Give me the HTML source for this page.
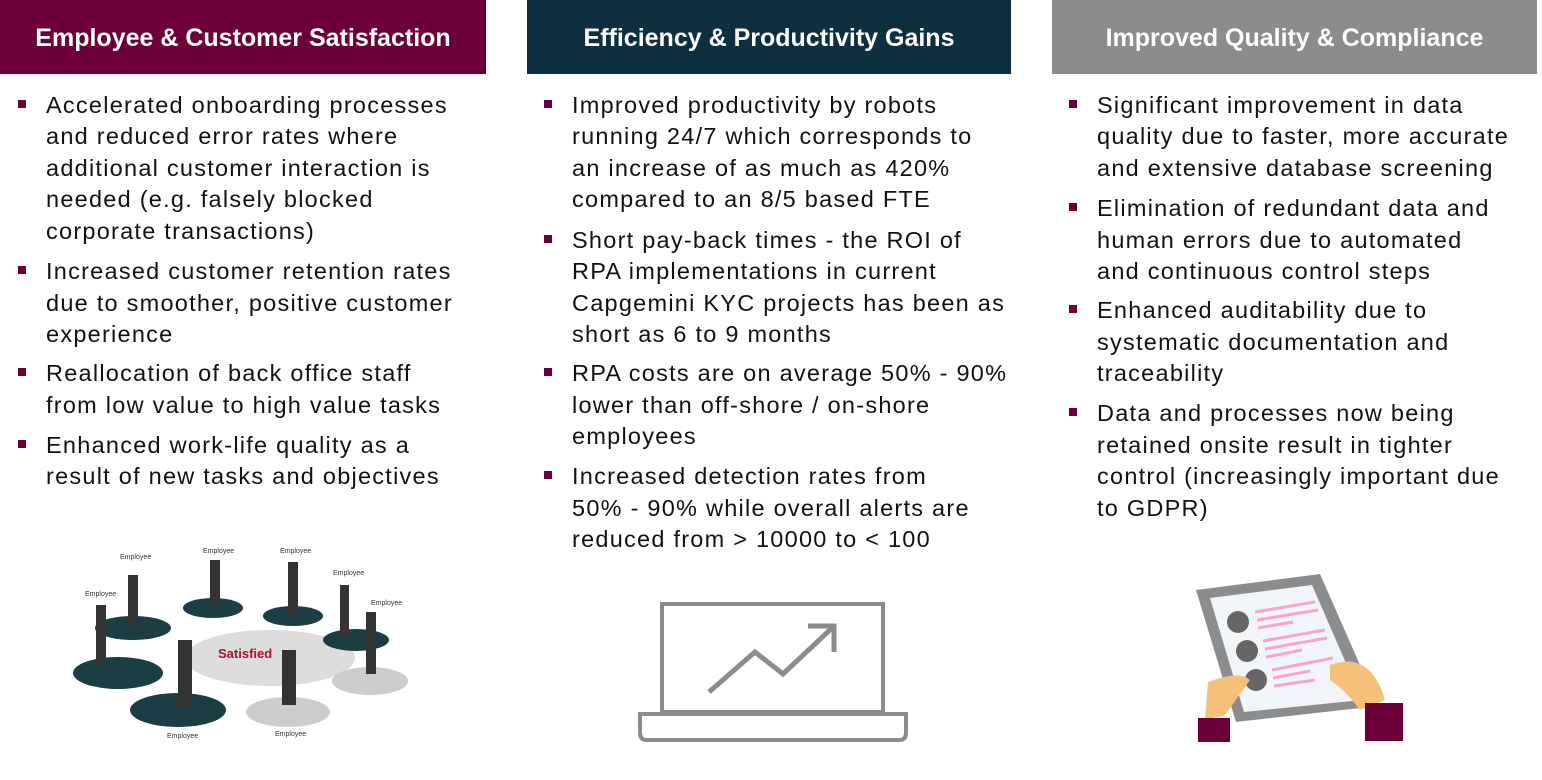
<!DOCTYPE html>
<html><head><meta charset="utf-8"><style>
body{margin:0;width:1542px;height:780px;background:#fff;position:relative;overflow:hidden;font-family:"Liberation Sans",sans-serif;}
.h{position:absolute;top:0;height:74px;color:#fff;font-weight:bold;font-size:25px;line-height:76px;text-align:center;white-space:nowrap}
.l{position:absolute;height:32px;line-height:32px;font-size:23.5px;letter-spacing:1.25px;color:#111;white-space:nowrap}
.b{position:absolute;width:8px;height:8px;background:#6d0038}
</style></head><body>
<div class="h" style="left:0;width:496px;background:#6d0038;width:486px">Employee &amp; Customer Satisfaction</div>
<div class="h" style="left:527px;width:484px;background:#0d2f3f">Efficiency &amp; Productivity Gains</div>
<div class="h" style="left:1052px;width:485px;background:#8a8c8e">Improved Quality &amp; Compliance</div>

<div class="b" style="left:18px;top:100px"></div>
<div class="l" style="left:46px;top:89px">Accelerated onboarding processes</div>
<div class="l" style="left:46px;top:120px">and reduced error rates where</div>
<div class="l" style="left:46px;top:152px">additional customer interaction is</div>
<div class="l" style="left:46px;top:183px">needed (e.g. falsely blocked</div>
<div class="l" style="left:46px;top:215px">corporate transactions)</div>
<div class="b" style="left:18px;top:266px"></div>
<div class="l" style="left:46px;top:255px">Increased customer retention rates</div>
<div class="l" style="left:46px;top:287px">due to smoother, positive customer</div>
<div class="l" style="left:46px;top:318px">experience</div>
<div class="b" style="left:18px;top:368px"></div>
<div class="l" style="left:46px;top:357px">Reallocation of back office staff</div>
<div class="l" style="left:46px;top:389px">from low value to high value tasks</div>
<div class="b" style="left:18px;top:440px"></div>
<div class="l" style="left:46px;top:429px">Enhanced work-life quality as a</div>
<div class="l" style="left:46px;top:460px">result of new tasks and objectives</div>

<div class="b" style="left:544px;top:100px"></div>
<div class="l" style="left:572px;top:89px">Improved productivity by robots</div>
<div class="l" style="left:572px;top:120px">running 24/7 which corresponds to</div>
<div class="l" style="left:572px;top:152px">an increase of as much as 420%</div>
<div class="l" style="left:572px;top:183px">compared to an 8/5 based FTE</div>
<div class="b" style="left:544px;top:235px"></div>
<div class="l" style="left:572px;top:224px">Short pay-back times - the ROI of</div>
<div class="l" style="left:572px;top:255px">RPA implementations in current</div>
<div class="l" style="left:572px;top:287px">Capgemini KYC projects has been as</div>
<div class="l" style="left:572px;top:318px">short as 6 to 9 months</div>
<div class="b" style="left:544px;top:368px"></div>
<div class="l" style="left:572px;top:357px">RPA costs are on average 50% - 90%</div>
<div class="l" style="left:572px;top:389px">lower than off-shore / on-shore</div>
<div class="l" style="left:572px;top:420px">employees</div>
<div class="b" style="left:544px;top:471px"></div>
<div class="l" style="left:572px;top:460px">Increased detection rates from</div>
<div class="l" style="left:572px;top:492px">50% - 90% while overall alerts are</div>
<div class="l" style="left:572px;top:523px">reduced from &gt; 10000 to &lt; 100</div>

<div class="b" style="left:1069px;top:100px"></div>
<div class="l" style="left:1097px;top:89px">Significant improvement in data</div>
<div class="l" style="left:1097px;top:120px">quality due to faster, more accurate</div>
<div class="l" style="left:1097px;top:152px">and extensive database screening</div>
<div class="b" style="left:1069px;top:203px"></div>
<div class="l" style="left:1097px;top:192px">Elimination of redundant data and</div>
<div class="l" style="left:1097px;top:224px">human errors due to automated</div>
<div class="l" style="left:1097px;top:255px">and continuous control steps</div>
<div class="b" style="left:1069px;top:305px"></div>
<div class="l" style="left:1097px;top:294px">Enhanced auditability due to</div>
<div class="l" style="left:1097px;top:326px">systematic documentation and</div>
<div class="l" style="left:1097px;top:357px">traceability</div>
<div class="b" style="left:1069px;top:408px"></div>
<div class="l" style="left:1097px;top:397px">Data and processes now being</div>
<div class="l" style="left:1097px;top:429px">retained onsite result in tighter</div>
<div class="l" style="left:1097px;top:460px">control (increasingly important due</div>
<div class="l" style="left:1097px;top:492px">to GDPR)</div>

<svg style="position:absolute;left:0;top:0" width="1542" height="780">
 <g>
  <ellipse cx="270" cy="658" rx="85" ry="28" fill="#ddd"/>
  <ellipse cx="118" cy="673" rx="45" ry="16" fill="#1d3d45"/>
  <ellipse cx="133" cy="628" rx="38" ry="12" fill="#1d3d45"/>
  <ellipse cx="213" cy="608" rx="30" ry="10" fill="#1d3d45"/>
  <ellipse cx="293" cy="616" rx="30" ry="10" fill="#1d3d45"/>
  <ellipse cx="356" cy="640" rx="33" ry="11" fill="#1d3d45"/>
  <ellipse cx="370" cy="681" rx="38" ry="14" fill="#ccc"/>
  <ellipse cx="178" cy="710" rx="48" ry="17" fill="#1d3d45"/>
  <ellipse cx="288" cy="712" rx="42" ry="15" fill="#ccc"/>
  <g fill="#333">
   <rect x="128" y="575" width="10" height="50"/><rect x="96" y="605" width="10" height="60"/>
   <rect x="210" y="560" width="10" height="46"/><rect x="288" y="562" width="10" height="52"/>
   <rect x="340" y="585" width="9" height="50"/><rect x="366" y="612" width="10" height="62"/>
   <rect x="178" y="640" width="14" height="68"/><rect x="282" y="650" width="14" height="55"/>
  </g>
  <text x="218" y="658" font-family="Liberation Sans" font-size="13" font-weight="bold" fill="#b01030">Satisfied</text>
  <g font-family="Liberation Sans" font-size="7" fill="#333">
   <text x="120" y="559">Employee</text><text x="203" y="553">Employee</text><text x="280" y="553">Employee</text>
   <text x="333" y="575">Employee</text><text x="371" y="605">Employee</text><text x="85" y="596">Employee</text>
   <text x="167" y="738">Employee</text><text x="275" y="736">Employee</text>
  </g>
 </g>
 <g fill="none" stroke="#8c8c8c" stroke-width="4">
  <rect x="662" y="604" width="221" height="108"/>
  <path d="M640 714 H906 V733 Q906 740 899 740 H647 Q640 740 640 733 Z"/>
  <polyline points="709,692 755,652 783,674 832,628" stroke-width="5"/>
  <polyline points="808,626 834,626 834,652" stroke-width="5"/>
 </g>
 <g>
  <polygon points="1196,590 1320,574 1378,706 1236,722" fill="#8a8c8e"/>
  <polygon points="1210,598 1312,585 1362,700 1244,712" fill="#f2f5f7"/>
  <circle cx="1238" cy="622" r="11" fill="#666"/><circle cx="1247" cy="651" r="11" fill="#666"/><circle cx="1256" cy="680" r="11" fill="#666"/>
  <g stroke="#f7a4d0" stroke-width="3">
   <line x1="1255" y1="612" x2="1315" y2="602"/><line x1="1257" y1="620" x2="1318" y2="610"/><line x1="1258" y1="628" x2="1293" y2="622"/>
   <line x1="1263" y1="641" x2="1325" y2="630"/><line x1="1265" y1="649" x2="1327" y2="638"/><line x1="1266" y1="657" x2="1302" y2="650"/>
   <line x1="1272" y1="670" x2="1333" y2="658"/><line x1="1273" y1="678" x2="1310" y2="671"/><line x1="1274" y1="686" x2="1315" y2="680"/>
  </g>
  <path d="M1208 682 Q1240 670 1250 680 L1225 715 L1205 720 Z" fill="#f5c07a"/>
  <path d="M1330 665 Q1370 650 1385 700 L1360 710 Q1345 690 1330 680 Z" fill="#f5c07a"/>
  <rect x="1198" y="718" width="32" height="24" fill="#6d0038"/>
  <rect x="1365" y="703" width="38" height="38" fill="#6d0038"/>
 </g>
</svg>
</body></html>
